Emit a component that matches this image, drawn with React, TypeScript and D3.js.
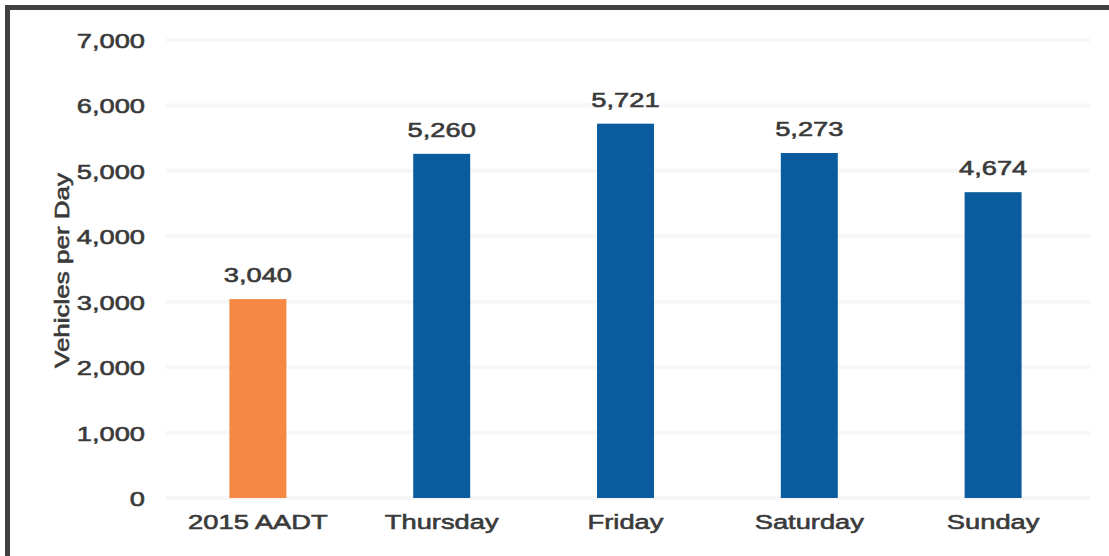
import React from "react";
import * as d3 from "d3";

const categories = ["2015 AADT", "Thursday", "Friday", "Saturday", "Sunday"];
const values = [3040, 5260, 5721, 5273, 4674];
const barColors = ["#F58842", "#0B5C9E", "#0B5C9E", "#0B5C9E", "#0B5C9E"];
const yTicks = [0, 1000, 2000, 3000, 4000, 5000, 6000, 7000];
const yTitle = "Vehicles per Day";

const W = 1109;
const H = 556;
const FONT = "'Liberation Sans', Arial, Helvetica, sans-serif";
const SX = 1.3;

export default function App() {
  const x = d3.scaleBand<string>().domain(categories).range([166, 1085]).paddingInner(0.69).paddingOuter(0.345);
  const y = d3.scaleLinear().domain([0, 7000]).range([498, 40]);
  const fmt = d3.format(",");
  const txt = "#3a3a3a";
  const textStyle = { fontSize: 21, fill: txt, stroke: txt, strokeWidth: 0.6 };

  return (
    <svg width={W} height={H} style={{ position: "absolute", left: 0, top: 0, background: "#fff" }} fontFamily={FONT}>
      <rect x={0} y={0} width={W} height={H} fill="#fff" />
      {yTicks.map((t) => (
        <line key={"g" + t} x1={166} x2={1090} y1={y(t)} y2={y(t)} stroke="#f7f7f7" strokeWidth={4} />
      ))}
      {yTicks.map((t) => (
        <text
          key={"t" + t}
          transform={`translate(145,${y(t) + 8}) scale(${SX},1)`}
          textAnchor="end"
          style={textStyle}
        >
          {fmt(t)}
        </text>
      ))}
      <text
        transform={`translate(69,${(168 + 373) / 2}) rotate(-90) scale(1.3,1)`}
        textAnchor="middle"
        style={{ ...textStyle, fontSize: 20 }}
      >
        {yTitle}
      </text>
      {categories.map((c, i) => (
        <g key={c}>
          <rect x={x(c)} y={y(values[i])} width={x.bandwidth()} height={y(0) - y(values[i])} fill={barColors[i]} />
          <text
            transform={`translate(${(x(c) as number) + x.bandwidth() / 2},${y(values[i]) - 17}) scale(${SX},1)`}
            textAnchor="middle"
            style={textStyle}
          >
            {fmt(values[i])}
          </text>
          <text
            transform={`translate(${(x(c) as number) + x.bandwidth() / 2},529) scale(${SX},1)`}
            textAnchor="middle"
            style={textStyle}
          >
            {c}
          </text>
        </g>
      ))}
      <path d={`M7.5,${H} V7.5 H${W}`} fill="none" stroke="#404040" strokeWidth={5} />
    </svg>
  );
}
